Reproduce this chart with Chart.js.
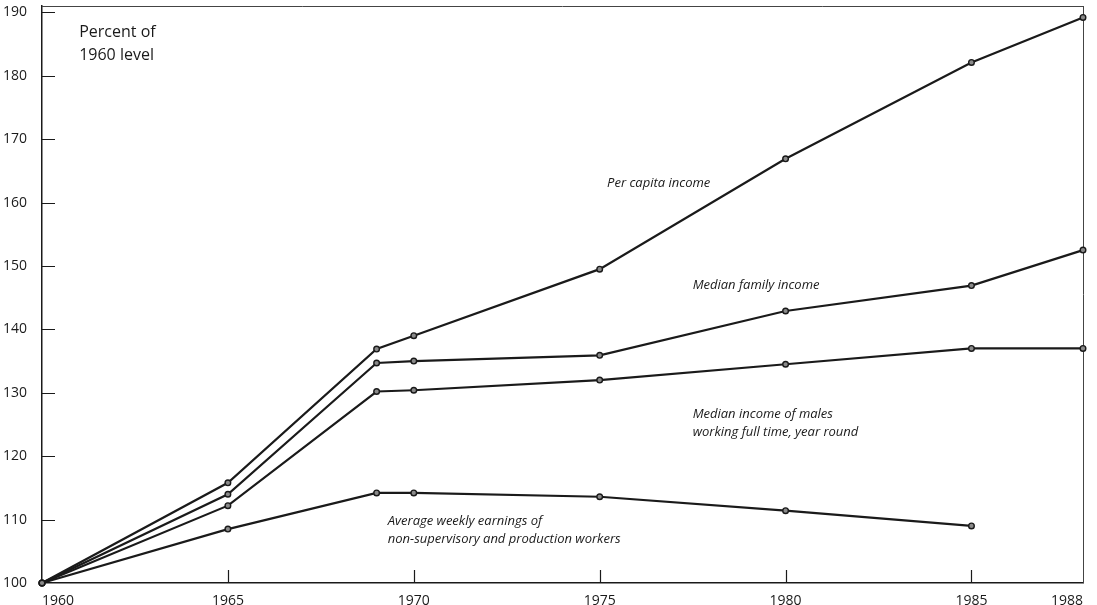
<!DOCTYPE html>
<html>
<head>
<meta charset="utf-8">
<script src="https://cdn.jsdelivr.net/npm/chart.js@4"></script>
<style>
  html, body { margin: 0; padding: 0; background: #fff; }
  #incomeChart { display: block; }
</style>
</head>
<body>
<canvas id="incomeChart" width="1097" height="605"></canvas>
<script>
// values, percent of 1960 level
const years = [1960, 1965, 1969, 1970, 1975, 1980, 1985, 1988];
const perCapita = [100, 115.8, 136.9, 139, 149.5, 166.9, 182.1, 189.2];
const familyIncome = [100, 114, 134.7, 135, 135.9, 142.9, 146.9, 152.5];
const malesIncome = [100, 112.2, 130.2, 130.4, 132, 134.5, 137, 137];
const weeklyEarnings = [100, 108.5, 114.2, 114.2, 113.6, 111.4, 109, null];

const xTicks = [1960, 1965, 1970, 1975, 1980, 1985, 1988];
const yTicks = [100, 110, 120, 130, 140, 150, 160, 170, 180, 190];

// text labels placed in data coordinates
const notes = [
  { text: 'Percent of', x: 1961.0, y: 186.9, italic: false },
  { text: '1960 level', x: 1961.0, y: 183.2, italic: false },
  { text: 'Per capita income', x: 1975.2, y: 163.1, italic: true },
  { text: 'Median family income', x: 1977.5, y: 147.0, italic: true },
  { text: 'Median income of males', x: 1977.5, y: 126.6, italic: true },
  { text: 'working full time, year round', x: 1977.5, y: 123.8, italic: true },
  { text: 'Average weekly earnings of', x: 1969.3, y: 109.8, italic: true },
  { text: 'non-supervisory and production workers', x: 1969.3, y: 106.9, italic: true }
];

const ink = '#1a1a1a';
const fontFamily = '"Open Sans", "DejaVu Sans", sans-serif';

const toPoints = vals => years.map((yr, i) => ({ x: yr, y: vals[i] })).filter(p => p.y !== null);

const makeSet = (label, vals) => ({
  label: label,
  data: toPoints(vals),
  borderColor: ink,
  borderWidth: 2.2,
  pointRadius: 2.8,
  pointBackgroundColor: '#8a8a8a',
  pointBorderColor: ink,
  pointBorderWidth: 1.4,
  tension: 0,
  clip: false
});

const framePlugin = {
  id: 'frame',
  beforeDatasetsDraw(chart) {
    const { ctx, chartArea: a, scales } = chart;
    ctx.save();
    ctx.strokeStyle = '#444';
    ctx.lineWidth = 1;
    ctx.beginPath();
    ctx.moveTo(a.left, a.top + 0.5);
    ctx.lineTo(a.right, a.top + 0.5);
    ctx.moveTo(a.right + 0.5, a.top);
    ctx.lineTo(a.right + 0.5, a.bottom);
    ctx.stroke();

    // inward tick marks
    ctx.strokeStyle = ink;
    ctx.lineWidth = 1.2;
    ctx.beginPath();
    yTicks.forEach(v => {
      if (v === 100) return;
      const py = Math.round(scales.y.getPixelForValue(v)) + 0.5;
      ctx.moveTo(a.left, py);
      ctx.lineTo(a.left + 13, py);
    });
    xTicks.forEach(v => {
      if (v === 1960 || v === 1988) return;
      const px = Math.round(scales.x.getPixelForValue(v)) + 0.5;
      ctx.moveTo(px, a.bottom);
      ctx.lineTo(px, a.bottom - 13);
    });
    ctx.stroke();
    ctx.restore();
  },
  afterDraw(chart) {
    const { ctx, scales } = chart;
    ctx.save();
    ctx.fillStyle = ink;
    ctx.textAlign = 'left';
    ctx.textBaseline = 'middle';
    notes.forEach(n => {
      ctx.font = n.italic ? 'italic 13px ' + fontFamily : '16px ' + fontFamily;
      ctx.fillText(n.text, scales.x.getPixelForValue(n.x), scales.y.getPixelForValue(n.y));
    });
    ctx.restore();
  }
};

new Chart(document.getElementById('incomeChart'), {
  type: 'line',
  data: {
    datasets: [
      makeSet('Per capita income', perCapita),
      makeSet('Median family income', familyIncome),
      makeSet('Median income of males working full time, year round', malesIncome),
      makeSet('Average weekly earnings of non-supervisory and production workers', weeklyEarnings)
    ]
  },
  options: {
    responsive: false,
    animation: false,
    layout: { padding: { top: 6, right: 14, left: 0, bottom: 0 } },
    plugins: {
      legend: { display: false },
      tooltip: { enabled: false }
    },
    scales: {
      x: {
        type: 'linear',
        min: 1960,
        max: 1988,
        afterBuildTicks: scale => { scale.ticks = xTicks.map(v => ({ value: v })); },
        afterFit: scale => { scale.height = 22; scale.paddingLeft = 0; scale.paddingRight = 0; },
        grid: { display: false },
        border: { display: true, color: ink, width: 1.5 },
        ticks: {
          align: 'inner',
          autoSkip: false,
          maxRotation: 0,
          padding: 2,
          color: ink,
          font: { family: fontFamily, size: 14 },
          callback: v => String(v)
        }
      },
      y: {
        min: 100,
        max: 191,
        afterBuildTicks: scale => { scale.ticks = yTicks.map(v => ({ value: v })); },
        afterFit: scale => { scale.width = 42; scale.paddingTop = 0; scale.paddingBottom = 0; },
        grid: { display: false },
        border: { display: true, color: ink, width: 1.5 },
        ticks: {
          padding: 7,
          color: ink,
          font: { family: fontFamily, size: 14 },
          callback: v => String(v)
        }
      }
    }
  },
  plugins: [framePlugin]
});
</script>
</body>
</html>
